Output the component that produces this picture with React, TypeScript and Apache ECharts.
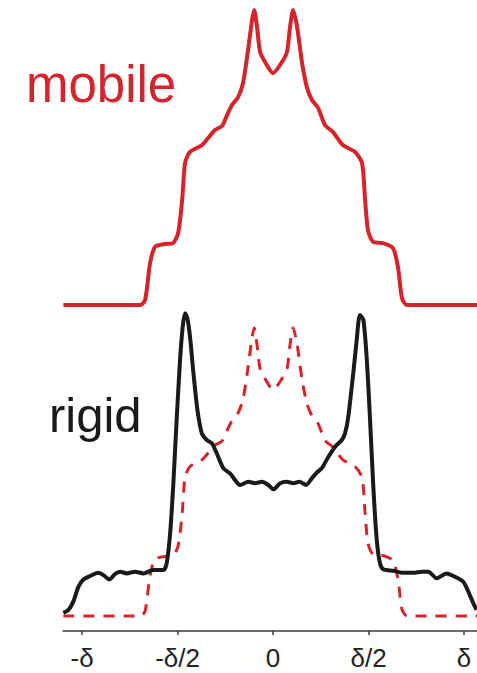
import React, { useEffect, useRef } from "react";
import * as echarts from "echarts";

// x in units of δ, y in % of the mobile peak height
const mobileX = [-1.098, -0.696, -0.670, -0.644, -0.618, -0.565, -0.524, -0.497, -0.476, -0.461, -0.435, -0.372, -0.340, -0.304, -0.267, -0.241, -0.215, -0.183, -0.157, -0.131, -0.110, -0.099, -0.084, -0.068, -0.042, 0, 0.047, 0.073, 0.089, 0.105, 0.126, 0.152, 0.178, 0.204, 0.236, 0.272, 0.314, 0.366, 0.429, 0.466, 0.482, 0.497, 0.524, 0.576, 0.628, 0.654, 0.675, 0.702, 1.084];
const mobileY = [0, 0, 1.7, 14.2, 19.7, 20.7, 21.0, 24.4, 35.6, 48.1, 51.9, 54.2, 56.6, 59.3, 60.7, 64.4, 67.8, 70.5, 75.3, 86.4, 96.6, 100, 94.2, 85.8, 82.4, 78.6, 82.4, 85.8, 94.2, 100, 94.2, 82.0, 73.6, 69.5, 66.8, 61.0, 58.6, 54.2, 51.9, 48.1, 35.6, 25.4, 21.4, 21.0, 19.3, 12.9, 2.4, 0, 0];

const rigidX = [-1.098, -1.072, -1.046, -1.019, -0.993, -0.958, -0.915, -0.888, -0.857, -0.827, -0.801, -0.766, -0.723, -0.679, -0.627, -0.574, -0.557, -0.539, -0.522, -0.504, -0.487, -0.473, -0.461, -0.449, -0.435, -0.417, -0.396, -0.373, -0.347, -0.321, -0.295, -0.260, -0.225, -0.199, -0.173, -0.129, -0.094, -0.059, -0.025, 0.002, 0.037, 0.072, 0.106, 0.138, 0.173, 0.203, 0.229, 0.255, 0.290, 0.325, 0.360, 0.377, 0.394, 0.420, 0.438, 0.455, 0.473, 0.491, 0.508, 0.525, 0.543, 0.560, 0.577, 0.630, 0.682, 0.735, 0.779, 0.813, 0.857, 0.909, 0.953, 0.996, 1.023, 1.049, 1.066];
const rigidY = [1.1, 2.1, 5.0, 10.2, 12.7, 13.9, 15.0, 14.2, 12.7, 14.6, 15.4, 14.8, 15.4, 14.8, 16.0, 16.0, 18.3, 28.7, 46.1, 69.2, 88.9, 100.5, 105.1, 103.4, 97.0, 84.3, 71.5, 63.4, 61.1, 60.0, 56.5, 51.3, 49.5, 47.2, 45.5, 46.6, 46.1, 46.6, 45.5, 44.0, 46.1, 46.6, 46.1, 46.6, 45.5, 47.8, 49.8, 51.3, 55.3, 58.8, 61.1, 63.4, 69.2, 84.3, 95.8, 104.5, 102.8, 88.9, 68.1, 44.9, 26.4, 18.3, 16.2, 15.7, 15.0, 15.0, 15.4, 15.4, 13.1, 14.8, 13.6, 11.9, 8.4, 4.4, 2.1];

const tickValues = [-1, -0.5, 0, 0.5, 1];
const tickLabels = ["-δ", "-δ/2", "0", "δ/2", "δ"];
const panelLabels = ["mobile", "rigid"];

const RED = "#d8232a";
const BLACK = "#1a1a1a";

export default function App() {
  const ref = useRef<HTMLDivElement>(null);
  useEffect(() => {
    if (!ref.current) return;
    const chart = echarts.init(ref.current, null, { renderer: "svg" });
    const mobile = mobileX.map((x, i) => [x, mobileY[i]]);
    const rigid = rigidX.map((x, i) => [x, rigidY[i]]);
    const xMin = -1.1;
    const xMax = 1.068;
    chart.setOption({
      animation: false,
      backgroundColor: "#ffffff",
      grid: [
        { left: 63, right: 0, top: 10, height: 295 },
        { left: 63, right: 0, top: 300, height: 331 },
      ],
      xAxis: [
        { gridIndex: 0, type: "value", min: xMin, max: xMax, show: false },
        {
          gridIndex: 1,
          type: "value",
          min: xMin,
          max: xMax,
          axisLine: { show: true, onZero: false, lineStyle: { color: "#3a3a3a", width: 1.5 } },
          axisTick: { show: true, length: 4, customValues: tickValues, lineStyle: { color: "#3a3a3a", width: 1.5 } },
          axisLabel: {
            show: true,
            customValues: tickValues,
            margin: 16,
            fontSize: 26,
            lineHeight: 22,
            color: "#222",
            fontFamily: "Liberation Sans, Arial, sans-serif",
            formatter: (v: number) => {
              const i = tickValues.findIndex((t) => Math.abs(t - v) < 1e-6);
              return i >= 0 ? tickLabels[i] : "";
            },
          },
          splitLine: { show: false },
        },
      ],
      yAxis: [
        { gridIndex: 0, type: "value", min: 0, max: 100, show: false },
        { gridIndex: 1, type: "value", min: -5.2, max: 109.7, show: false },
      ],
      graphic: [
        {
          type: "text",
          x: 26,
          y: 84,
          style: {
            text: panelLabels[0],
            fill: RED,
            font: "51px 'Liberation Sans', Arial, sans-serif",
            textVerticalAlign: "middle",
          },
        },
        {
          type: "text",
          x: 49,
          y: 415,
          style: {
            text: panelLabels[1],
            fill: BLACK,
            font: "49px 'Liberation Sans', Arial, sans-serif",
            textVerticalAlign: "middle",
          },
        },
      ],
      series: [
        {
          type: "line",
          xAxisIndex: 0,
          yAxisIndex: 0,
          data: mobile,
          showSymbol: false,
          smooth: 0.25,
          clip: false,
          lineStyle: { color: RED, width: 4 },
        },
        {
          type: "line",
          xAxisIndex: 1,
          yAxisIndex: 1,
          data: mobile,
          showSymbol: false,
          smooth: 0.25,
          clip: false,
          lineStyle: { color: RED, width: 3, type: [11, 9] },
        },
        {
          type: "line",
          xAxisIndex: 1,
          yAxisIndex: 1,
          data: rigid,
          showSymbol: false,
          smooth: 0.25,
          clip: false,
          lineStyle: { color: BLACK, width: 4 },
        },
      ],
    });
    return () => chart.dispose();
  }, []);
  return (
    <div
      ref={ref}
      style={{ position: "fixed", left: 0, top: 0, width: 477, height: 673, background: "#fff" }}
    />
  );
}
